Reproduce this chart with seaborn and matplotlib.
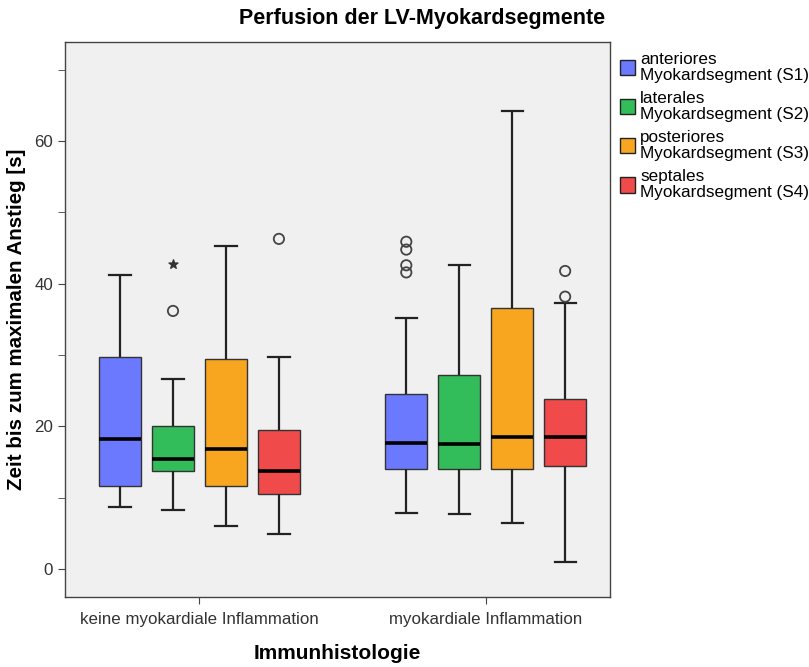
import matplotlib
matplotlib.use("Agg")
import matplotlib.pyplot as plt
from matplotlib.patches import Patch
from matplotlib.ticker import MultipleLocator
import seaborn as sns
import pandas as pd

# %% data (five-number summary: min, Q1, median, Q3, max)
groups = ["keine myokardiale Inflammation", "myokardiale Inflammation"]
segments = [
    "anteriores\nMyokardsegment (S1)",
    "laterales\nMyokardsegment (S2)",
    "posteriores\nMyokardsegment (S3)",
    "septales\nMyokardsegment (S4)",
]
colors = ["#6b79ff", "#33bd5a", "#f8a61f", "#f04a4a"]

s1_keine = [8.7, 11.6, 18.2, 29.8, 41.3]
s2_keine = [8.3, 13.7, 15.5, 20.1, 26.7]
s3_keine = [6.0, 11.6, 16.9, 29.4, 45.3]
s4_keine = [4.9, 10.6, 13.8, 19.5, 29.8]
s1_infl = [7.9, 14.1, 17.7, 24.6, 35.2]
s2_infl = [7.8, 14.1, 17.6, 27.2, 42.7]
s3_infl = [6.4, 14.0, 18.5, 36.6, 64.2]
s4_infl = [1.0, 14.5, 18.5, 23.9, 37.3]

# outliers (circles) and extreme values (star)
circle_group = [0, 0, 1, 1, 1, 1, 1, 1]
circle_segment = [1, 3, 0, 0, 0, 0, 3, 3]
circle_value = [36.2, 46.3, 45.9, 44.8, 42.6, 41.6, 41.8, 38.2]
star_group = [0]
star_segment = [1]
star_value = [42.8]

summaries = {
    (0, 0): s1_keine, (0, 1): s2_keine, (0, 2): s3_keine, (0, 3): s4_keine,
    (1, 0): s1_infl, (1, 1): s2_infl, (1, 2): s3_infl, (1, 3): s4_infl,
}

rows = []
for (g, s), vals in summaries.items():
    for v in vals:
        rows.append({"group": groups[g], "segment": segments[s], "value": v})
df = pd.DataFrame(rows)

# %% plot
plt.rcParams["font.family"] = ["Liberation Sans", "DejaVu Sans"]
fig = plt.figure(figsize=(8.09, 6.67), dpi=100)
ax = fig.add_axes([0.0803, 0.105, 0.674, 0.832])
ax.set_facecolor("#f0f0f0")

box_width = 0.74
sns.boxplot(
    data=df, x="group", y="value", hue="segment",
    order=groups, hue_order=segments, palette=colors, saturation=1,
    width=box_width, gap=0.2, whis=(0, 100), showfliers=False,
    linewidth=1.0, linecolor="#333333",
    medianprops=dict(color="black", linewidth=2.6),
    whiskerprops=dict(color="#222222", linewidth=1.6),
    capprops=dict(color="#222222", linewidth=1.6),
    legend=False, ax=ax,
)

step = box_width / len(segments)


def dodge_x(g, s):
    return g + (s - (len(segments) - 1) / 2) * step


ax.scatter([dodge_x(g, s) for g, s in zip(circle_group, circle_segment)], circle_value,
           marker="o", s=55, facecolors="none", edgecolors="#444444", linewidths=1.3, zorder=5)
ax.scatter([dodge_x(g, s) for g, s in zip(star_group, star_segment)], star_value,
           marker="*", s=45, color="#333333", zorder=5)

ax.set_xlim(-0.47, 1.435)
ax.set_ylim(-3.9, 73.9)
ax.yaxis.set_major_locator(MultipleLocator(20))
ax.yaxis.set_minor_locator(MultipleLocator(10))
ax.tick_params(axis="both", which="both", direction="out", length=5, color="#444444",
               labelsize=12.2, labelcolor="#333333")
ax.tick_params(axis="x", pad=6)
for sp in ax.spines.values():
    sp.set_color("#444444")
    sp.set_linewidth(1.0)

ax.set_xlabel("Immunhistologie", fontsize=15, fontweight="bold", labelpad=12)
ax.set_ylabel("Zeit bis zum maximalen Anstieg [s]", fontsize=14.8, fontweight="bold", labelpad=6)
fig.text(0.522, 0.972, "Perfusion der LV-Myokardsegmente", ha="center", va="center",
         fontsize=15.5, fontweight="bold")

handles = [Patch(facecolor=c, edgecolor="#222222", linewidth=1) for c in colors]
leg = ax.legend(handles, segments, loc="upper left", bbox_to_anchor=(1.005, 0.995), frameon=False,
                fontsize=12.3, handlelength=0.9, handleheight=1.0, handletextpad=0.3,
                labelspacing=0.45, borderaxespad=0.2, borderpad=0.2)
for t in leg.get_texts():
    t.set_linespacing(1.12)

fig.savefig("out.png", dpi=100)
